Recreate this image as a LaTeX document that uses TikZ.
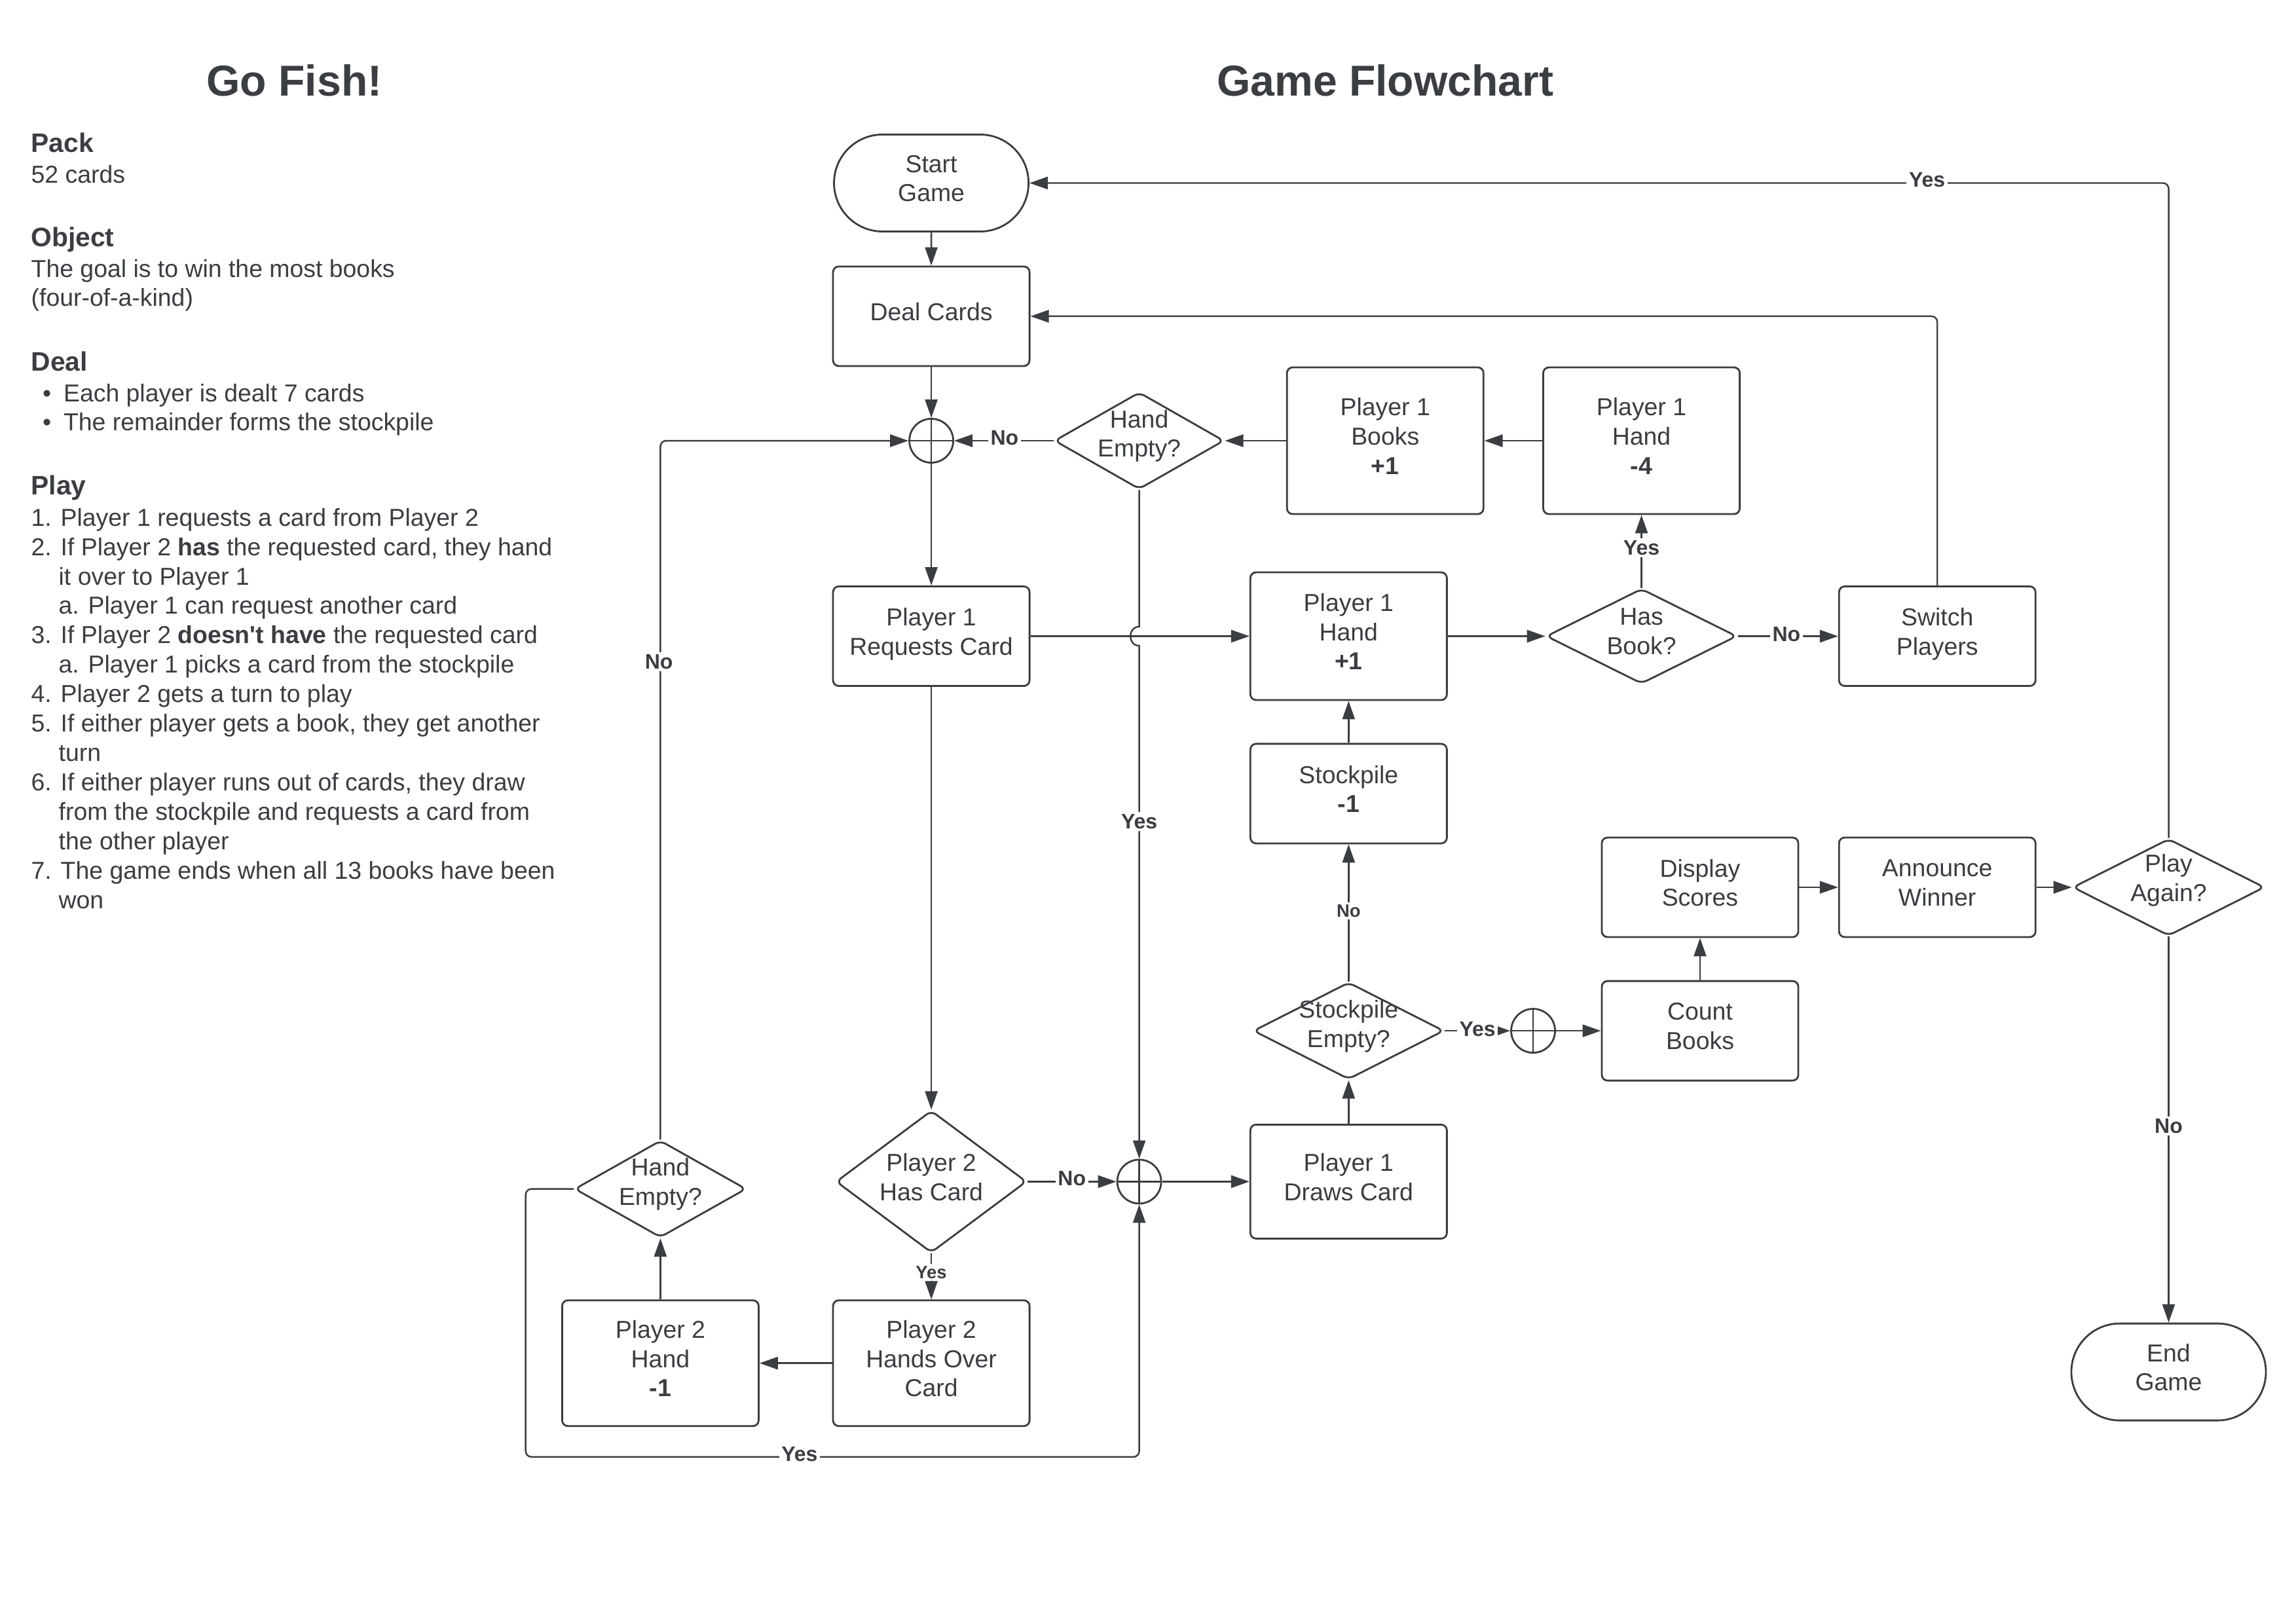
\documentclass[tikz,border=0pt]{standalone}
\usepackage{fontspec}
\setmainfont{Liberation Sans}[Ligatures=TeXOff]
\usetikzlibrary{shapes.geometric,shapes.misc,arrows.meta}
\definecolor{ink}{HTML}{3A3D41}
\newcommand\gfNode{\fontsize{10.64}{12.7}\selectfont}
\newcommand\gfLab{\fontsize{9.1}{11}\selectfont\bfseries}
\newcommand\gfSmall{\fontsize{7.8}{9}\selectfont\bfseries}
\newcommand\gfHead{\fontsize{11.6}{14}\selectfont\bfseries}
\newcommand\gfTitle{\fontsize{18.8}{22}\selectfont\bfseries}
\tikzset{
  box/.style={draw=ink, line width=0.8pt, rounded corners=2.5pt, minimum width=3cm,
    minimum height=1.52cm, align=center, inner sep=0pt, font=\gfNode, text=ink, text depth=4pt},
  term/.style={draw=ink, line width=0.8pt, rounded rectangle, minimum width=2.97cm,
    minimum height=1.48cm, align=center, inner sep=0pt, font=\gfNode, text=ink, text depth=4pt},
  dia/.style={draw=ink, line width=0.8pt, diamond, rounded corners=2.5pt, inner sep=0pt},
  dtext/.style={align=center, font=\gfNode, text=ink, inner sep=0pt, yshift=2pt},
  junc/.style={draw=ink, line width=0.8pt, circle, minimum size=0.67cm, inner sep=0pt,
    path picture={\draw[ink, line width=0.7pt] (path picture bounding box.north) -- (path picture bounding box.south)
      (path picture bounding box.west) -- (path picture bounding box.east);}},
  arr/.style={draw=ink, line width=0.7pt, rounded corners=2.5pt, -{Triangle[length=0.28cm, width=0.19cm]}},
  lab/.style={font=\gfLab, text=ink, fill=white, inner sep=1pt},
  slab/.style={font=\gfSmall, text=ink, fill=white, inner sep=1pt},
  body/.style={anchor=base west, font=\gfNode, text=ink, inner sep=0pt},
  head/.style={anchor=base west, font=\gfHead, text=ink, inner sep=0pt},
  ttl/.style={anchor=base, font=\gfTitle, text=ink, inner sep=0pt}
}
\begin{document}
\begin{tikzpicture}[x=0.02236cm, y=-0.02236cm]
\useasboundingbox[fill=white] (0,0) rectangle (1568,1109);

% titles
\node[ttl] (t1) at (201,65.5) {Go Fish!};
\node[ttl] (t2) at (946,65.5) {Game Flowchart};

% left panel
\node[head] (hpack) at (21,104) {Pack};
\node[body] (l1) at (21,125) {52 cards};
\node[head] (hobj) at (21,168.5) {Object};
\node[body] (l2) at (21,189.2) {The goal is to win the most books};
\node[body] (l3) at (21,209.2) {(four-of-a-kind)};
\node[head] (hdeal) at (21,253.2) {Deal};
\node[anchor=base, font=\gfNode, text=ink, inner sep=0pt] (b1) at (32,274.2) {•};
\node[body] (l4) at (43.1,274.2) {Each player is dealt 7 cards};
\node[anchor=base, font=\gfNode, text=ink, inner sep=0pt] (b2) at (32,294.2) {•};
\node[body] (l5) at (43.1,294.2) {The remainder forms the stockpile};
\node[head] (hplay) at (21,338.1) {Play};
\node[body] (p1) at (21,359.2) {1. Player 1 requests a card from Player 2};
\node[body] (p2) at (21,379.3) {2. If Player 2 \textbf{has} the requested card, they hand};
\node[body] (p3) at (39.8,399.4) {it over to Player 1};
\node[body] (p4) at (39.8,419.5) {a. Player 1 can request another card};
\node[body] (p5) at (21,439.6) {3. If Player 2 \textbf{doesn't have} the requested card};
\node[body] (p6) at (39.8,459.7) {a. Player 1 picks a card from the stockpile};
\node[body] (p7) at (21,479.8) {4. Player 2 gets a turn to play};
\node[body] (p8) at (21,499.9) {5. If either player gets a book, they get another};
\node[body] (p9) at (39.8,520.0) {turn};
\node[body] (p10) at (21,540.1) {6. If either player runs out of cards, they draw};
\node[body] (p11) at (39.8,560.2) {from the stockpile and requests a card from};
\node[body] (p12) at (39.8,580.3) {the other player};
\node[body] (p13) at (21,600.4) {7. The game ends when all 13 books have been};
\node[body] (p14) at (39.8,620.5) {won};

% flowchart nodes
\node[term] (start) at (636,125) {Start\\Game};
\node[box] (deal) at (636,216) {Deal Cards};
\node[junc] (j1) at (636,301) {};
\node[dia, minimum width=2.59cm, minimum height=1.48cm] (he1) at (778,301) {};
\node[dtext] (he1t) at (he1) {Hand\\Empty?};
\node[box, minimum height=2.24cm] (books) at (946,301) {Player 1\\Books\\\textbf{+1}};
\node[box, minimum height=2.24cm] (hand4) at (1121,301) {Player 1\\Hand\\\textbf{-4}};
\node[box] (req) at (636,434.5) {Player 1\\Requests Card};
\node[box, minimum height=1.95cm] (h1) at (921,434.5) {Player 1\\Hand\\\textbf{+1}};
\node[dia, minimum width=2.91cm, minimum height=1.45cm] (hasbook) at (1121,434.5) {};
\node[dtext] (hasbookt) at (hasbook) {Has\\Book?};
\node[box] (switch) at (1323,434.5) {Switch\\Players};
\node[box] (stock) at (921,542) {Stockpile\\\textbf{-1}};
\node[box] (display) at (1161,606) {Display\\Scores};
\node[box] (announce) at (1323,606) {Announce\\Winner};
\node[dia, minimum width=2.93cm, minimum height=1.48cm] (again) at (1481,606) {};
\node[dtext, yshift=1pt] (againt) at (again) {Play\\Again?};
\node[dia, minimum width=2.91cm, minimum height=1.48cm] (sempty) at (921,704) {};
\node[dtext] (semptyt) at (sempty) {Stockpile\\Empty?};
\node[junc] (j2) at (1047,704) {};
\node[box] (count) at (1161,704) {Count\\Books};
\node[box, minimum height=1.74cm] (draws) at (921,807) {Player 1\\Draws Card};
\node[junc] (j3) at (778,807) {};
\node[dia, minimum width=2.91cm, minimum height=2.17cm] (p2has) at (636,807) {};
\node[dtext] (p2hast) at (p2has) {Player 2\\Has Card};
\node[dia, minimum width=2.62cm, minimum height=1.48cm] (lhe) at (451,812) {};
\node[dtext] (lhet) at (lhe) {Hand\\Empty?};
\node[box, minimum height=1.92cm] (p2hand) at (451,931) {Player 2\\Hand\\\textbf{-1}};
\node[box, minimum height=1.92cm] (handsover) at (636,931) {Player 2\\Hands Over\\Card};
\node[term] (endg) at (1481,937) {End\\Game};

\coordinate (bl) at (359,995);

% connectors
\draw[arr] (start) -- (deal);
\draw[arr] (deal) -- (j1);
\draw[arr] (he1.west) -- (j1.east);
\draw[arr] (books.west) -- (he1.east);
\draw[arr] (hand4.west) -- (books.east);
\draw[arr] (j1) -- (req);
\draw[arr] (lhe.north) |- (j1.west);
\draw[arr] (req.east) -- (h1.west);
\draw[arr, rounded corners=0pt] (he1.south) -- (778,428) .. controls (770,428) and (770,441) .. (778,441) -- (j3.north);
\draw[arr] (h1.east) -- (hasbook.west);
\draw[arr] (hasbook.north) -- (hand4.south);
\draw[arr] (hasbook.east) -- (switch.west);
\draw[arr] (switch.north) |- (deal.east);
\draw[arr] (stock.north) -- (h1.south);
\draw[arr] (sempty.north) -- (stock.south);
\draw[arr] (sempty.east) -- (j2.west);
\draw[arr] (j2.east) -- (count.west);
\draw[arr] (count.north) -- (display.south);
\draw[arr] (display.east) -- (announce.west);
\draw[arr] (announce.east) -- (again.west);
\draw[arr] (again.north) |- (start.east);
\draw[arr] (again.south) -- (endg.north);
\draw[arr] (draws.north) -- (sempty.south);
\draw[arr] (j3.east) -- (draws.west);
\draw[arr] (p2has.east) -- (j3.west);
\draw[arr] (req.south) -- (p2has.north);
\draw[arr] (p2has.south) -- (handsover.north);
\draw[arr] (handsover.west) -- (p2hand.east);
\draw[arr] (p2hand.north) -- (lhe.south);
\draw[arr] (lhe.west) -| (bl) -| (j3.south);

% connector labels
\node[lab] (n1) at (686,299) {No};
\node[lab] (n2) at (450,452) {No};
\node[lab] (y1) at (778,561) {Yes};
\node[lab] (y2) at (1121,374) {Yes};
\node[lab] (n3) at (1220,433) {No};
\node[slab] (n4) at (921,622) {No};
\node[lab] (y3) at (1009,703) {Yes};
\node[lab] (y4) at (1316,123) {Yes};
\node[lab] (n5) at (1481,769) {No};
\node[lab] (n6) at (732,805) {No};
\node[slab] (y5) at (636,869) {Yes};
\node[lab] (y6) at (546,993) {Yes};
\end{tikzpicture}
\end{document}
